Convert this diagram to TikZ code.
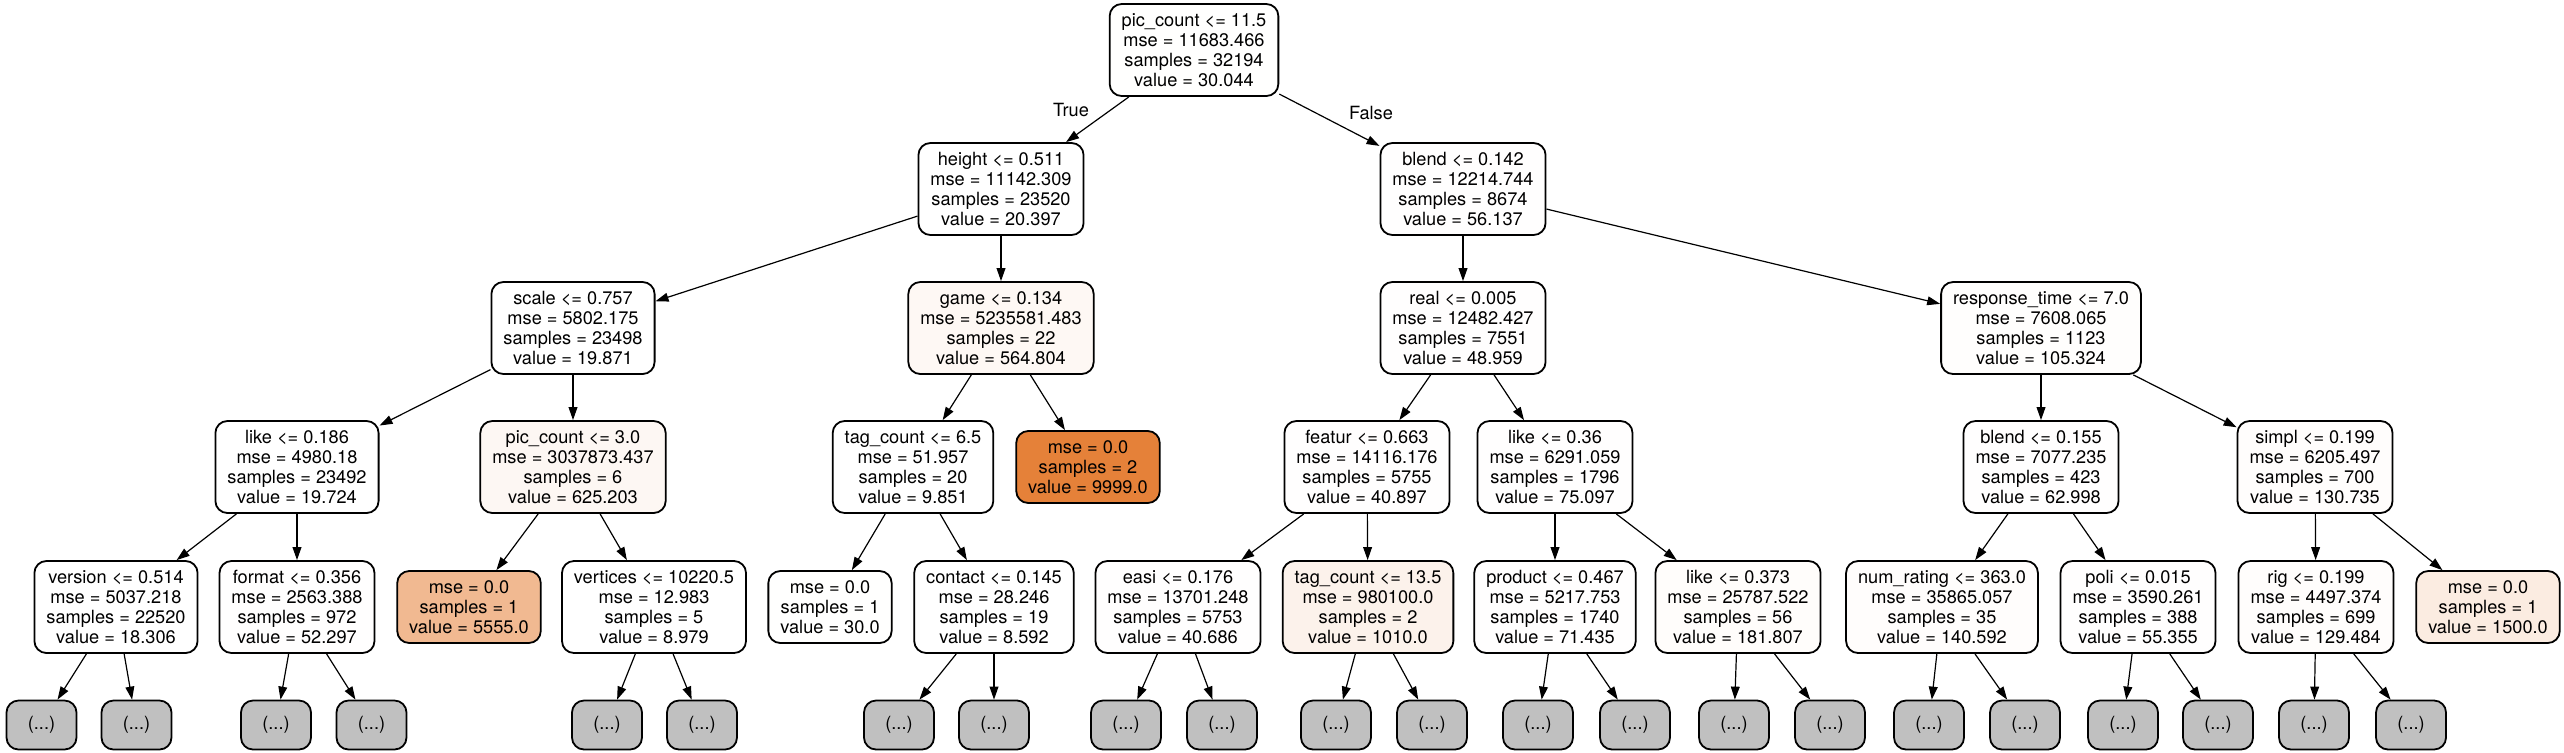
\documentclass[tikz,border=0pt]{standalone}
\usepackage{fontspec}
\setmainfont{TeX Gyre Heros}
\usetikzlibrary{arrows.meta}
\definecolor{orng}{RGB}{229,129,57}
\definecolor{gry}{RGB}{192,192,192}
\tikzset{
  tbox/.style={draw=black, line width=0.9pt, rounded corners=6pt, align=center,
    font=\fontsize{9.1}{10}\selectfont, inner xsep=6pt, inner ysep=2pt, fill=white},
  four/.style={tbox, minimum height=46pt},
  three/.style={tbox, minimum height=36pt},
  tint/.style={fill=orng!#1!white},
  dots/.style={draw=black, line width=0.9pt, rounded corners=6pt, fill=gry,
    minimum width=35pt, minimum height=24.5pt, inner sep=0pt, font=\fontsize{9.1}{10}\selectfont},
  conn/.style={draw=black, line width=0.6pt, -{Triangle[length=6.5pt,width=4.4pt]}},
  elabel/.style={font=\fontsize{9.1}{10}\selectfont, inner sep=0pt}
}
\begin{document}
\begin{tikzpicture}[x=0.5pt,y=-0.5pt]
\useasboundingbox (0,0) rectangle (2564,752);
% level 0
\node[four,tint=0.30] (n0) at (1194,50) {pic\_count <= 11.5\\mse = 11683.466\\samples = 32194\\value = 30.044};
% level 1
\node[four,tint=0.20] (n1) at (1001,189) {height <= 0.511\\mse = 11142.309\\samples = 23520\\value = 20.397};
\node[four,tint=0.56] (n2) at (1463,189) {blend <= 0.142\\mse = 12214.744\\samples = 8674\\value = 56.137};
% level 2
\node[four,tint=0.20] (n3) at (573,328) {scale <= 0.757\\mse = 5802.175\\samples = 23498\\value = 19.871};
\node[four,tint=5.65] (n4) at (1001,328) {game <= 0.134\\mse = 5235581.483\\samples = 22\\value = 564.804};
\node[four,tint=0.49] (n5) at (1463,328) {real <= 0.005\\mse = 12482.427\\samples = 7551\\value = 48.959};
\node[four,tint=1.05] (n6) at (2041,328) {response\_time <= 7.0\\mse = 7608.065\\samples = 1123\\value = 105.324};
% level 3
\node[four,tint=0.20] (n7) at (297,467) {like <= 0.186\\mse = 4980.18\\samples = 23492\\value = 19.724};
\node[four,tint=6.25] (n8) at (573,467) {pic\_count <= 3.0\\mse = 3037873.437\\samples = 6\\value = 625.203};
\node[four,tint=0.10] (n9) at (913,467) {tag\_count <= 6.5\\mse = 51.957\\samples = 20\\value = 9.851};
\node[three,tint=100] (n10) at (1088,467) {mse = 0.0\\samples = 2\\value = 9999.0};
\node[four,tint=0.41] (n11) at (1367,467) {featur <= 0.663\\mse = 14116.176\\samples = 5755\\value = 40.897};
\node[four,tint=0.75] (n12) at (1555,467) {like <= 0.36\\mse = 6291.059\\samples = 1796\\value = 75.097};
\node[four,tint=0.63] (n13) at (2041,467) {blend <= 0.155\\mse = 7077.235\\samples = 423\\value = 62.998};
\node[four,tint=1.31] (n14) at (2315,467) {simpl <= 0.199\\mse = 6205.497\\samples = 700\\value = 130.735};
% level 4
\node[four,tint=0.18] (n15) at (116,607) {version <= 0.514\\mse = 5037.218\\samples = 22520\\value = 18.306};
\node[four,tint=0.52] (n16) at (297,607) {format <= 0.356\\mse = 2563.388\\samples = 972\\value = 52.297};
\node[three,tint=55.55] (n17) at (469,607) {mse = 0.0\\samples = 1\\value = 5555.0};
\node[four,tint=0.09] (n18) at (654,607) {vertices <= 10220.5\\mse = 12.983\\samples = 5\\value = 8.979};
\node[three,tint=0.30] (n19) at (830,607) {mse = 0.0\\samples = 1\\value = 30.0};
\node[four,tint=0.09] (n20) at (994,607) {contact <= 0.145\\mse = 28.246\\samples = 19\\value = 8.592};
\node[four,tint=0.41] (n21) at (1178,607) {easi <= 0.176\\mse = 13701.248\\samples = 5753\\value = 40.686};
\node[four,tint=10.1] (n22) at (1368,607) {tag\_count <= 13.5\\mse = 980100.0\\samples = 2\\value = 1010.0};
\node[four,tint=0.71] (n23) at (1555,607) {product <= 0.467\\mse = 5217.753\\samples = 1740\\value = 71.435};
\node[four,tint=1.82] (n24) at (1738,607) {like <= 0.373\\mse = 25787.522\\samples = 56\\value = 181.807};
\node[four,tint=1.41] (n25) at (1942,607) {num\_rating <= 363.0\\mse = 35865.057\\samples = 35\\value = 140.592};
\node[four,tint=0.55] (n26) at (2138,607) {poli <= 0.015\\mse = 3590.261\\samples = 388\\value = 55.355};
\node[four,tint=1.29] (n27) at (2316,607) {rig <= 0.199\\mse = 4497.374\\samples = 699\\value = 129.484};
\node[three,tint=15] (n28) at (2488,607) {mse = 0.0\\samples = 1\\value = 1500.0};
% level 5
\foreach \i/\x in {1/41.5,2/136.5,3/276,4/371.5,5/607,6/702,7/899,8/994,9/1126,10/1222,11/1336,12/1432,13/1538,14/1635,15/1734,16/1830,17/1929,18/2025,19/2123,20/2218,21/2314,22/2411}
  \node[dots] (e\i) at (\x,725) {(...)};
% edges
\draw[conn] (n0) -- (n1);
\draw[conn] (n0) -- (n2);
\node[elabel] (lt) at (1071,110) {True};
\node[elabel] (lf) at (1371,113) {False};
\foreach \a/\b in {n1/n3,n1/n4,n2/n5,n2/n6,n3/n7,n3/n8,n4/n9,n4/n10,n5/n11,n5/n12,n6/n13,n6/n14,n7/n15,n7/n16,n8/n17,n8/n18,n9/n19,n9/n20,n11/n21,n11/n22,n12/n23,n12/n24,n13/n25,n13/n26,n14/n27,n14/n28,
  n15/e1,n15/e2,n16/e3,n16/e4,n18/e5,n18/e6,n20/e7,n20/e8,n21/e9,n21/e10,n22/e11,n22/e12,n23/e13,n23/e14,n24/e15,n24/e16,n25/e17,n25/e18,n26/e19,n26/e20,n27/e21,n27/e22}
  \draw[conn] (\a) -- (\b);
\end{tikzpicture}
\end{document}
